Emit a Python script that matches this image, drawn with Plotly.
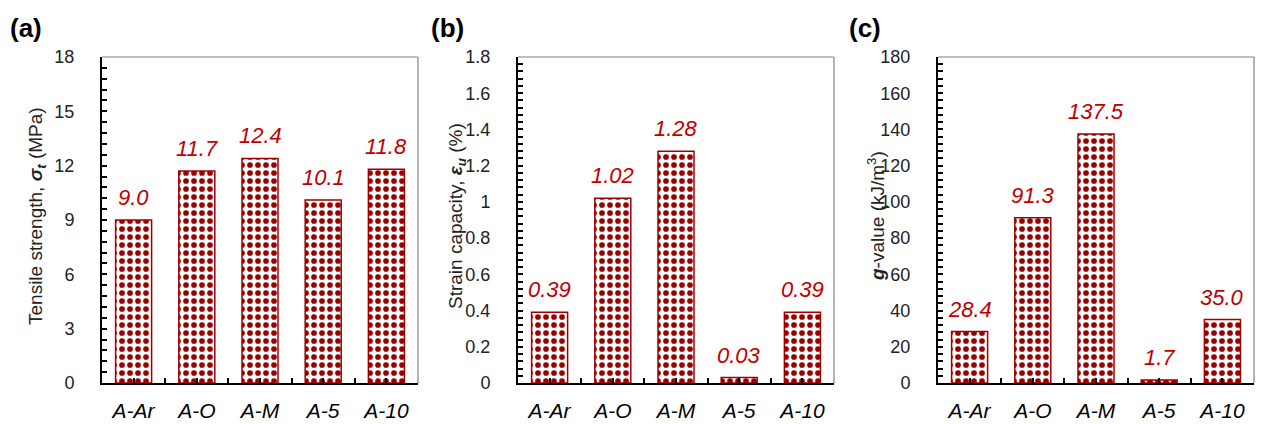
import plotly.graph_objects as go

categories = ["A-Ar", "A-O", "A-M", "A-5", "A-10"]
tensile = [9.0, 11.7, 12.4, 10.1, 11.8]
strain = [0.39, 1.02, 1.28, 0.03, 0.39]
gvalue = [28.4, 91.3, 137.5, 1.7, 35.0]

W, H = 1261, 424
panels = [
    dict(vals=tensile, fmt="{:.1f}", rng=[0, 18], dtick=3, minor=0.6,
         left=102, right=418, title="Tensile strength, <b><i>σ</i></b><sub><b><i>t</i></b></sub> (MPa)",
         title_x=37, label="(a)", label_x=26),
    dict(vals=strain, fmt="{:.2f}", rng=[0, 1.8], dtick=0.2, minor=0.04,
         left=518, right=834, title="Strain capacity, <b><i>ε</i></b><sub><b><i>u</i></b></sub> (%)",
         title_x=457, label="(b)", label_x=447),
    dict(vals=gvalue, fmt="{:.1f}", rng=[0, 180], dtick=20, minor=4,
         left=938, right=1254, title="<b><i>g</i></b>-value (kJ/m<sup>3</sup>)",
         title_x=876, label="(c)", label_x=865),
]
top_px, bot_px = 57, 383
ydom = [1 - bot_px / H, 1 - top_px / H]

FONT = "Liberation Sans, Arial, sans-serif"
fig = go.Figure()
xs = list(range(len(categories)))
annotations = []
shapes = []
for i, p in enumerate(panels):
    n = "" if i == 0 else str(i + 1)
    xa, ya = "x" + n, "y" + n
    fig.add_trace(go.Bar(
        x=xs, y=p["vals"], xaxis=xa, yaxis=ya, width=0.57,
        marker=dict(color="white",
                    line=dict(color="#A00000", width=1.5),
                    pattern=dict(shape=".", fgcolor="#990000", bgcolor="white",
                                 size=8, solidity=0.4, fillmode="replace")),
        showlegend=False, hoverinfo="skip"))
    for xv, v in zip(xs, p["vals"]):
        annotations.append(dict(x=xv, y=v, xref=xa, yref=ya, text=p["fmt"].format(v),
                                showarrow=False, yanchor="bottom", yshift=8,
                                font=dict(family=FONT, size=22, color="#C00000", style="italic")))
    dom = [p["left"] / W, p["right"] / W]
    axkey = "xaxis" + n
    aykey = "yaxis" + n
    fig.update_layout(**{
        axkey: dict(domain=dom, anchor=ya, range=[-0.5, len(categories) - 0.5],
                    automargin=False,
                    tickvals=xs, ticktext=categories, ticks="inside", ticklen=5,
                    tickwidth=1.5, tickcolor="black", showline=True, linecolor="black",
                    linewidth=2, showgrid=False, zeroline=False, ticklabelstandoff=8,
                    tickfont=dict(family=FONT, size=21, color="black", style="italic"),
                    minor=dict(tick0=-0.5, dtick=1, ticks="inside", ticklen=5,
                               tickwidth=1.5, tickcolor="black", showgrid=False),
                    fixedrange=True),
        aykey: dict(domain=ydom, anchor=xa, range=p["rng"], dtick=p["dtick"], tick0=0,
                    automargin=False,
                    ticks="inside", ticklen=5, tickwidth=1.5, tickcolor="black",
                    showline=True, linecolor="black", linewidth=2, showgrid=False,
                    zeroline=False, ticklabelstandoff=22,
                    tickfont=dict(family=FONT, size=18, color="#222"),
                    minor=dict(dtick=p["minor"], tick0=0, ticks="inside", ticklen=5,
                               tickwidth=1.5, tickcolor="black", showgrid=False),
                    fixedrange=True),
    })
    shapes.append(dict(type="line", xref=xa + " domain", yref=ya + " domain",
                       x0=0, x1=1, y0=1, y1=1, line=dict(color="#808080", width=1.2)))
    shapes.append(dict(type="line", xref=xa + " domain", yref=ya + " domain",
                       x0=1, x1=1, y0=0, y1=1, line=dict(color="#808080", width=1.2)))
    annotations.append(dict(x=p["title_x"] / W, y=1 - 216 / H, xref="paper", yref="paper",
                            text=p["title"], showarrow=False, textangle=-90,
                            xanchor="center", yanchor="middle",
                            font=dict(family=FONT, size=19, color="#222")))
    annotations.append(dict(x=p["label_x"] / W, y=1 - 28 / H, xref="paper", yref="paper",
                            text="<b>" + p["label"] + "</b>", showarrow=False,
                            xanchor="center", yanchor="middle",
                            font=dict(family=FONT, size=26, color="black")))

fig.update_layout(template="none", width=W, height=H, margin=dict(l=0, r=0, t=0, b=0),
                  paper_bgcolor="white", plot_bgcolor="white",
                  annotations=annotations, shapes=shapes)
fig.write_html("out.html")
